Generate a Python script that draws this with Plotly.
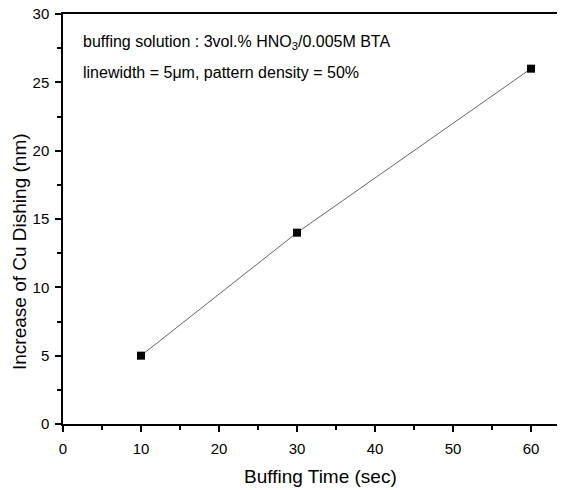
import plotly.graph_objects as go

time_sec = [10, 30, 60]
dishing_nm = [5, 14, 26]

# page body has an 8px margin, so the figure is shrunk to fit the window
OFF = 8
FW, FH = 565 - OFF, 490 - OFF
L, T, W, H = 63, 14, 502, 410  # plot area in window pixels


def px(x):
    return (x - L) / W


def py(y):
    return (T + H - y) / H


fig = go.Figure()
fig.add_trace(go.Scatter(
    x=time_sec, y=dishing_nm, mode="lines+markers",
    line=dict(color="#666666", width=1),
    marker=dict(symbol="square", size=8, color="black"),
    showlegend=False,
))

font = "Liberation Sans, Arial, sans-serif"
fig.update_layout(
    width=FW, height=FH,
    margin=dict(l=L - OFF, r=FW - (L - OFF) - W, t=T - OFF,
                b=FH - (T - OFF) - H, autoexpand=False),
    paper_bgcolor="white", plot_bgcolor="white",
    font=dict(family=font, size=15, color="black"),
)
fig.update_xaxes(
    range=[0, 64.36], dtick=10, tick0=0, automargin=False,
    showgrid=False, zeroline=False,
    showline=True, linecolor="black", linewidth=1.5, mirror=True,
    ticks="outside", ticklen=6, tickwidth=1.5, tickcolor="black",
    minor=dict(dtick=5, ticks="outside", ticklen=4, tickwidth=1.5, tickcolor="black"),
    tickfont=dict(size=15), ticklabelstandoff=4, ticklabeloverflow="allow",
)
fig.update_yaxes(
    range=[0, 30], dtick=5, tick0=0, automargin=False,
    showgrid=False, zeroline=False,
    showline=True, linecolor="black", linewidth=1.5, mirror=False,
    ticks="outside", ticklen=6, tickwidth=1.5, tickcolor="black",
    minor=dict(dtick=2.5, ticks="outside", ticklen=4, tickwidth=1.5, tickcolor="black"),
    tickfont=dict(size=15), ticklabelstandoff=3, ticklabeloverflow="allow",
)
fig.add_annotation(
    xref="paper", yref="paper", x=px(320), y=py(476),
    xanchor="center", yanchor="middle", showarrow=False,
    text="Buffing Time (sec)", font=dict(size=19),
)
fig.add_annotation(
    xref="paper", yref="paper", x=px(19), y=py(252),
    xanchor="center", yanchor="middle", showarrow=False, textangle=-90,
    text="Increase of Cu Dishing (nm)", font=dict(size=19),
)
fig.add_annotation(
    xref="paper", yref="paper", x=px(81), y=py(43),
    xanchor="left", yanchor="middle", showarrow=False,
    text="buffing solution : 3vol.% HNO<sub>3</sub>/0.005M BTA",
    font=dict(size=16),
)
fig.add_annotation(
    xref="paper", yref="paper", x=px(81), y=py(72),
    xanchor="left", yanchor="middle", showarrow=False,
    text="linewidth = 5μm, pattern density = 50%",
    font=dict(size=16),
)
fig.write_html("out.html")
